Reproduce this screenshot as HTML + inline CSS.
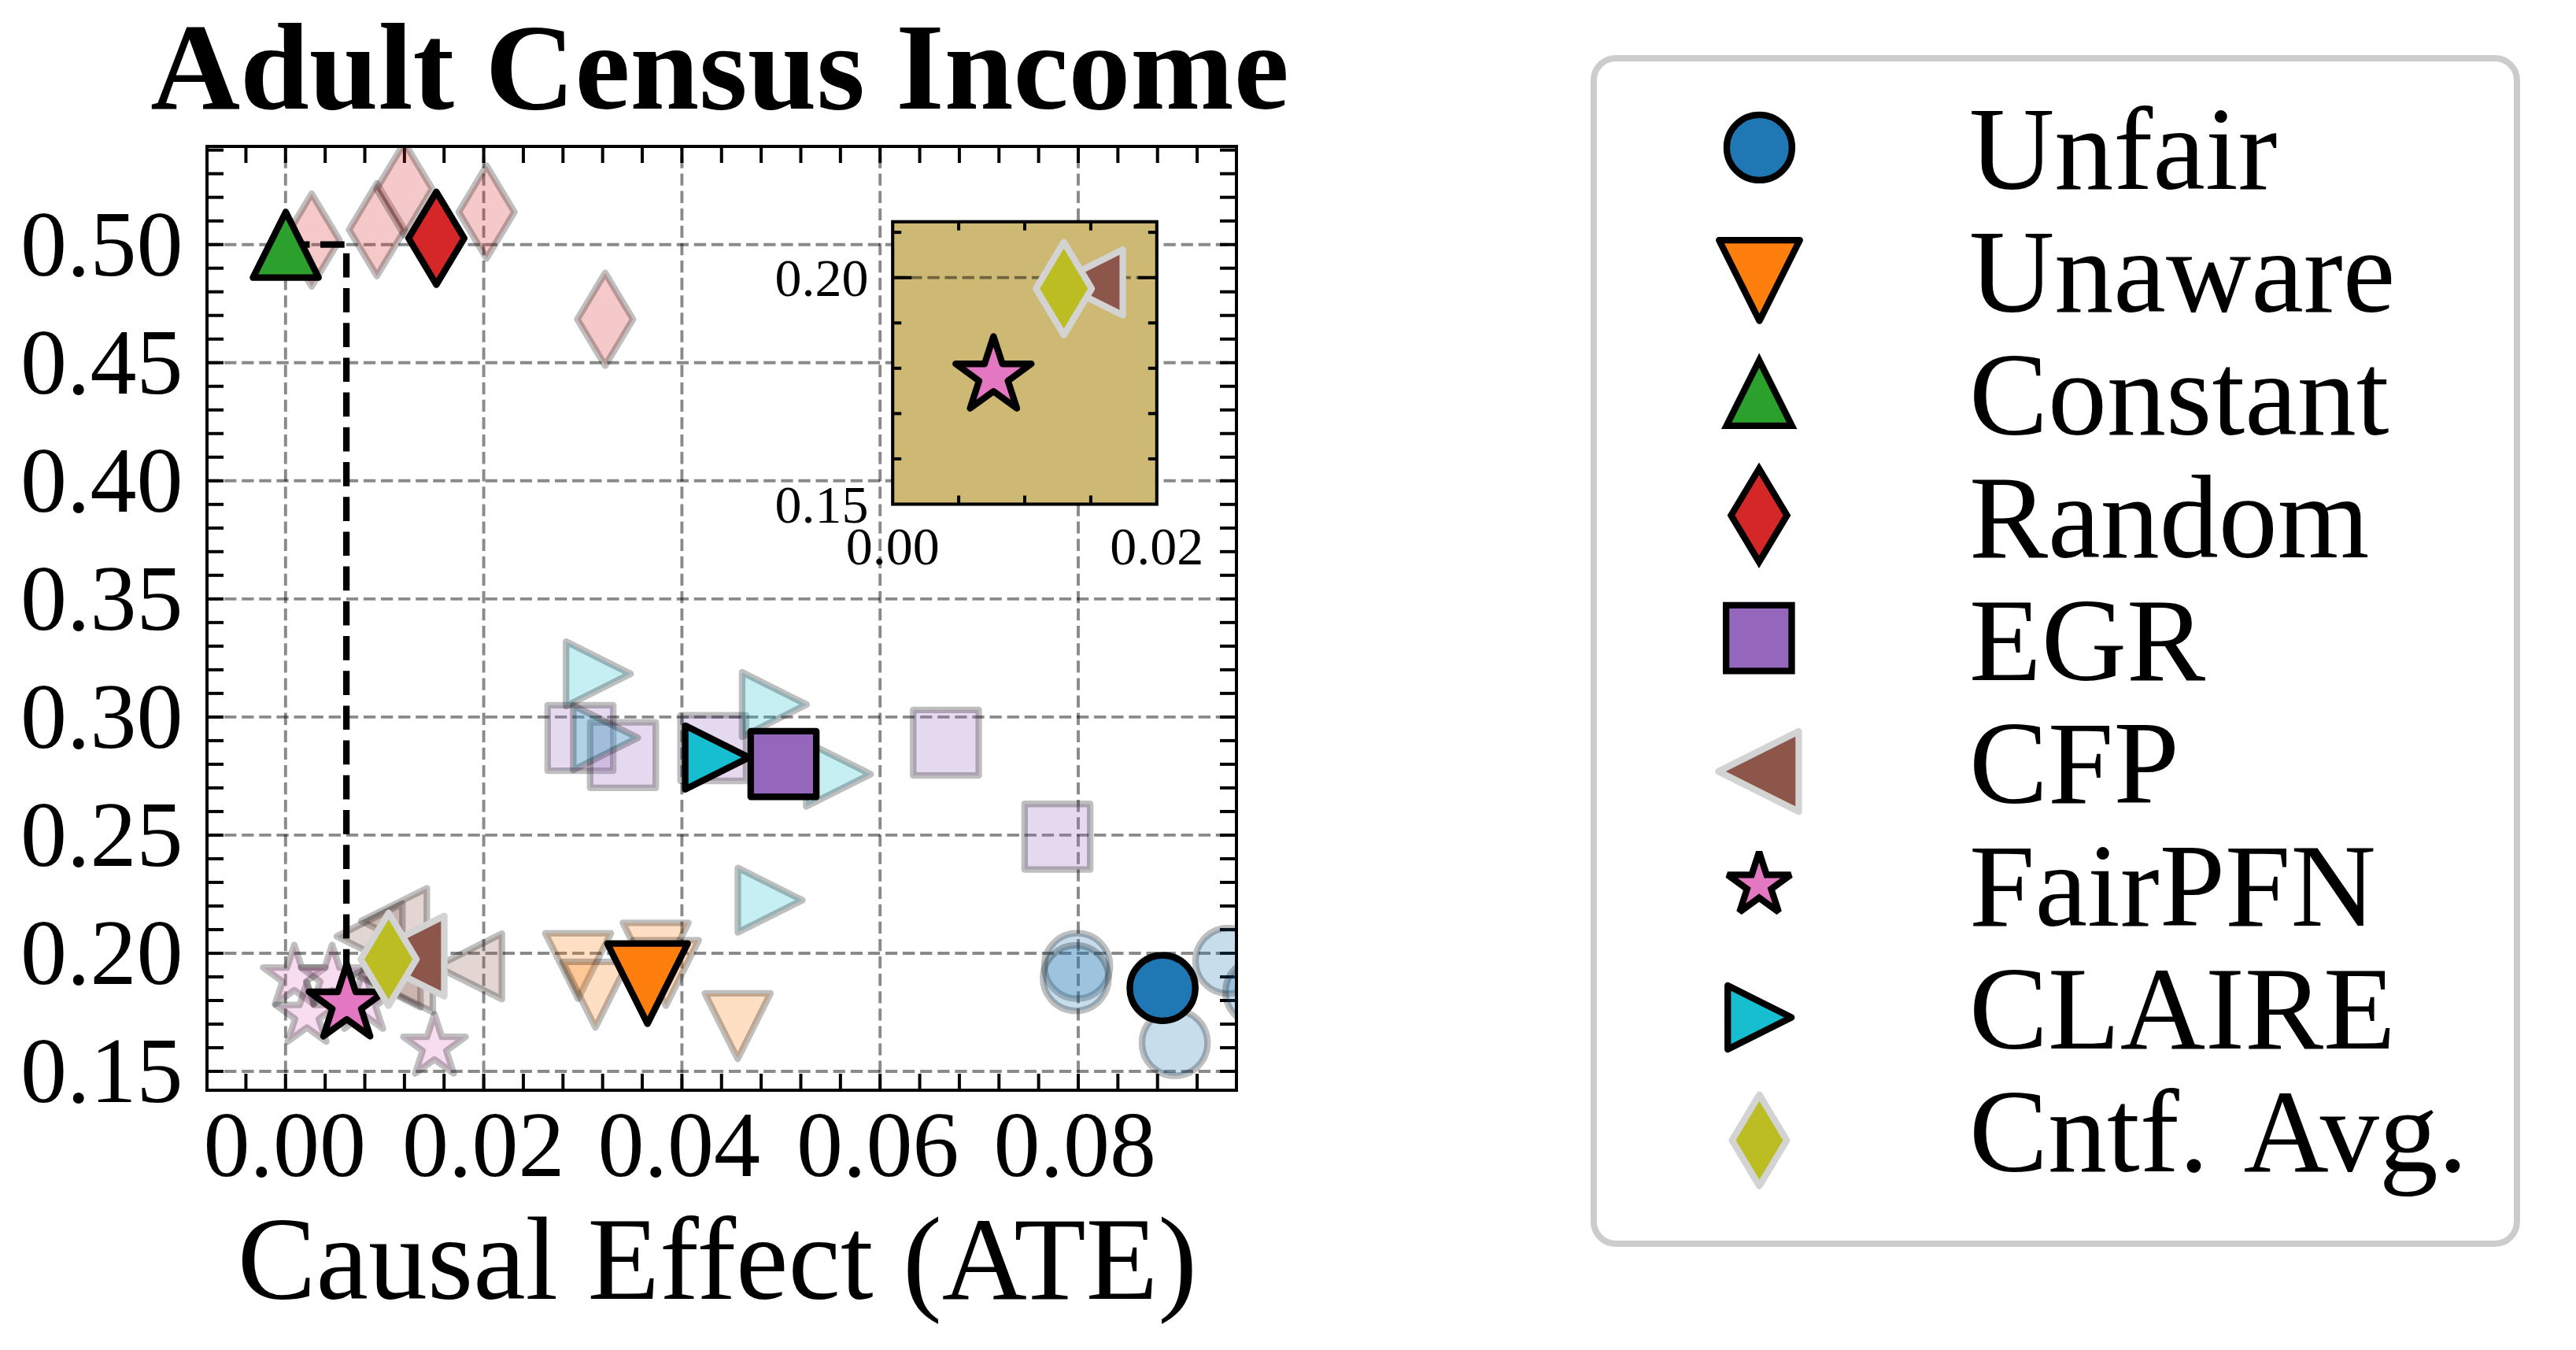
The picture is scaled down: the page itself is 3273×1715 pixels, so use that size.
<!DOCTYPE html><html><head><meta charset="utf-8"><style>html,body{margin:0;padding:0;background:#fff;overflow:hidden}svg{display:block}text{font-family:"Liberation Serif",serif}</style></head><body>
<svg width="3273" height="1715" viewBox="0 0 3273 1715">
<rect width="3273" height="1715" fill="#fff"/>
<defs><clipPath id="axclip"><rect x="263" y="186" width="1308" height="1199"/></clipPath></defs>
<text x="914.5" y="137.9" font-size="157.8" font-weight="bold" text-anchor="middle">Adult Census Income</text>
<line x1="362.8" y1="1385" x2="362.8" y2="186" stroke="#000" stroke-opacity="0.46" stroke-width="3.9" stroke-dasharray="15.3 6.8"/>
<line x1="614.6" y1="1385" x2="614.6" y2="186" stroke="#000" stroke-opacity="0.46" stroke-width="3.9" stroke-dasharray="15.3 6.8"/>
<line x1="866.4" y1="1385" x2="866.4" y2="186" stroke="#000" stroke-opacity="0.46" stroke-width="3.9" stroke-dasharray="15.3 6.8"/>
<line x1="1118.2" y1="1385" x2="1118.2" y2="186" stroke="#000" stroke-opacity="0.46" stroke-width="3.9" stroke-dasharray="15.3 6.8"/>
<line x1="1370" y1="1385" x2="1370" y2="186" stroke="#000" stroke-opacity="0.46" stroke-width="3.9" stroke-dasharray="15.3 6.8"/>
<line x1="263" y1="1361.02" x2="1571" y2="1361.02" stroke="#000" stroke-opacity="0.46" stroke-width="3.9" stroke-dasharray="15.3 6.8"/>
<line x1="263" y1="1210.97" x2="1571" y2="1210.97" stroke="#000" stroke-opacity="0.46" stroke-width="3.9" stroke-dasharray="15.3 6.8"/>
<line x1="263" y1="1060.92" x2="1571" y2="1060.92" stroke="#000" stroke-opacity="0.46" stroke-width="3.9" stroke-dasharray="15.3 6.8"/>
<line x1="263" y1="910.88" x2="1571" y2="910.88" stroke="#000" stroke-opacity="0.46" stroke-width="3.9" stroke-dasharray="15.3 6.8"/>
<line x1="263" y1="760.84" x2="1571" y2="760.84" stroke="#000" stroke-opacity="0.46" stroke-width="3.9" stroke-dasharray="15.3 6.8"/>
<line x1="263" y1="610.79" x2="1571" y2="610.79" stroke="#000" stroke-opacity="0.46" stroke-width="3.9" stroke-dasharray="15.3 6.8"/>
<line x1="263" y1="460.74" x2="1571" y2="460.74" stroke="#000" stroke-opacity="0.46" stroke-width="3.9" stroke-dasharray="15.3 6.8"/>
<line x1="263" y1="310.7" x2="1571" y2="310.7" stroke="#000" stroke-opacity="0.46" stroke-width="3.9" stroke-dasharray="15.3 6.8"/>
<line x1="312.44" y1="1385" x2="312.44" y2="1364" stroke="#000" stroke-width="4"/>
<line x1="312.44" y1="186" x2="312.44" y2="207" stroke="#000" stroke-width="4"/>
<line x1="362.8" y1="1385" x2="362.8" y2="1364" stroke="#000" stroke-width="4"/>
<line x1="362.8" y1="186" x2="362.8" y2="207" stroke="#000" stroke-width="4"/>
<line x1="413.16" y1="1385" x2="413.16" y2="1364" stroke="#000" stroke-width="4"/>
<line x1="413.16" y1="186" x2="413.16" y2="207" stroke="#000" stroke-width="4"/>
<line x1="463.52" y1="1385" x2="463.52" y2="1364" stroke="#000" stroke-width="4"/>
<line x1="463.52" y1="186" x2="463.52" y2="207" stroke="#000" stroke-width="4"/>
<line x1="513.88" y1="1385" x2="513.88" y2="1364" stroke="#000" stroke-width="4"/>
<line x1="513.88" y1="186" x2="513.88" y2="207" stroke="#000" stroke-width="4"/>
<line x1="564.24" y1="1385" x2="564.24" y2="1364" stroke="#000" stroke-width="4"/>
<line x1="564.24" y1="186" x2="564.24" y2="207" stroke="#000" stroke-width="4"/>
<line x1="614.6" y1="1385" x2="614.6" y2="1364" stroke="#000" stroke-width="4"/>
<line x1="614.6" y1="186" x2="614.6" y2="207" stroke="#000" stroke-width="4"/>
<line x1="664.96" y1="1385" x2="664.96" y2="1364" stroke="#000" stroke-width="4"/>
<line x1="664.96" y1="186" x2="664.96" y2="207" stroke="#000" stroke-width="4"/>
<line x1="715.32" y1="1385" x2="715.32" y2="1364" stroke="#000" stroke-width="4"/>
<line x1="715.32" y1="186" x2="715.32" y2="207" stroke="#000" stroke-width="4"/>
<line x1="765.68" y1="1385" x2="765.68" y2="1364" stroke="#000" stroke-width="4"/>
<line x1="765.68" y1="186" x2="765.68" y2="207" stroke="#000" stroke-width="4"/>
<line x1="816.04" y1="1385" x2="816.04" y2="1364" stroke="#000" stroke-width="4"/>
<line x1="816.04" y1="186" x2="816.04" y2="207" stroke="#000" stroke-width="4"/>
<line x1="866.4" y1="1385" x2="866.4" y2="1364" stroke="#000" stroke-width="4"/>
<line x1="866.4" y1="186" x2="866.4" y2="207" stroke="#000" stroke-width="4"/>
<line x1="916.76" y1="1385" x2="916.76" y2="1364" stroke="#000" stroke-width="4"/>
<line x1="916.76" y1="186" x2="916.76" y2="207" stroke="#000" stroke-width="4"/>
<line x1="967.12" y1="1385" x2="967.12" y2="1364" stroke="#000" stroke-width="4"/>
<line x1="967.12" y1="186" x2="967.12" y2="207" stroke="#000" stroke-width="4"/>
<line x1="1017.48" y1="1385" x2="1017.48" y2="1364" stroke="#000" stroke-width="4"/>
<line x1="1017.48" y1="186" x2="1017.48" y2="207" stroke="#000" stroke-width="4"/>
<line x1="1067.84" y1="1385" x2="1067.84" y2="1364" stroke="#000" stroke-width="4"/>
<line x1="1067.84" y1="186" x2="1067.84" y2="207" stroke="#000" stroke-width="4"/>
<line x1="1118.2" y1="1385" x2="1118.2" y2="1364" stroke="#000" stroke-width="4"/>
<line x1="1118.2" y1="186" x2="1118.2" y2="207" stroke="#000" stroke-width="4"/>
<line x1="1168.56" y1="1385" x2="1168.56" y2="1364" stroke="#000" stroke-width="4"/>
<line x1="1168.56" y1="186" x2="1168.56" y2="207" stroke="#000" stroke-width="4"/>
<line x1="1218.92" y1="1385" x2="1218.92" y2="1364" stroke="#000" stroke-width="4"/>
<line x1="1218.92" y1="186" x2="1218.92" y2="207" stroke="#000" stroke-width="4"/>
<line x1="1269.28" y1="1385" x2="1269.28" y2="1364" stroke="#000" stroke-width="4"/>
<line x1="1269.28" y1="186" x2="1269.28" y2="207" stroke="#000" stroke-width="4"/>
<line x1="1319.64" y1="1385" x2="1319.64" y2="1364" stroke="#000" stroke-width="4"/>
<line x1="1319.64" y1="186" x2="1319.64" y2="207" stroke="#000" stroke-width="4"/>
<line x1="1370" y1="1385" x2="1370" y2="1364" stroke="#000" stroke-width="4"/>
<line x1="1370" y1="186" x2="1370" y2="207" stroke="#000" stroke-width="4"/>
<line x1="1420.36" y1="1385" x2="1420.36" y2="1364" stroke="#000" stroke-width="4"/>
<line x1="1420.36" y1="186" x2="1420.36" y2="207" stroke="#000" stroke-width="4"/>
<line x1="1470.72" y1="1385" x2="1470.72" y2="1364" stroke="#000" stroke-width="4"/>
<line x1="1470.72" y1="186" x2="1470.72" y2="207" stroke="#000" stroke-width="4"/>
<line x1="1521.08" y1="1385" x2="1521.08" y2="1364" stroke="#000" stroke-width="4"/>
<line x1="1521.08" y1="186" x2="1521.08" y2="207" stroke="#000" stroke-width="4"/>
<line x1="263" y1="1361.02" x2="284" y2="1361.02" stroke="#000" stroke-width="4"/>
<line x1="1571" y1="1361.02" x2="1550" y2="1361.02" stroke="#000" stroke-width="4"/>
<line x1="263" y1="1331.01" x2="284" y2="1331.01" stroke="#000" stroke-width="4"/>
<line x1="1571" y1="1331.01" x2="1550" y2="1331.01" stroke="#000" stroke-width="4"/>
<line x1="263" y1="1301" x2="284" y2="1301" stroke="#000" stroke-width="4"/>
<line x1="1571" y1="1301" x2="1550" y2="1301" stroke="#000" stroke-width="4"/>
<line x1="263" y1="1270.99" x2="284" y2="1270.99" stroke="#000" stroke-width="4"/>
<line x1="1571" y1="1270.99" x2="1550" y2="1270.99" stroke="#000" stroke-width="4"/>
<line x1="263" y1="1240.98" x2="284" y2="1240.98" stroke="#000" stroke-width="4"/>
<line x1="1571" y1="1240.98" x2="1550" y2="1240.98" stroke="#000" stroke-width="4"/>
<line x1="263" y1="1210.97" x2="284" y2="1210.97" stroke="#000" stroke-width="4"/>
<line x1="1571" y1="1210.97" x2="1550" y2="1210.97" stroke="#000" stroke-width="4"/>
<line x1="263" y1="1180.96" x2="284" y2="1180.96" stroke="#000" stroke-width="4"/>
<line x1="1571" y1="1180.96" x2="1550" y2="1180.96" stroke="#000" stroke-width="4"/>
<line x1="263" y1="1150.95" x2="284" y2="1150.95" stroke="#000" stroke-width="4"/>
<line x1="1571" y1="1150.95" x2="1550" y2="1150.95" stroke="#000" stroke-width="4"/>
<line x1="263" y1="1120.94" x2="284" y2="1120.94" stroke="#000" stroke-width="4"/>
<line x1="1571" y1="1120.94" x2="1550" y2="1120.94" stroke="#000" stroke-width="4"/>
<line x1="263" y1="1090.93" x2="284" y2="1090.93" stroke="#000" stroke-width="4"/>
<line x1="1571" y1="1090.93" x2="1550" y2="1090.93" stroke="#000" stroke-width="4"/>
<line x1="263" y1="1060.92" x2="284" y2="1060.92" stroke="#000" stroke-width="4"/>
<line x1="1571" y1="1060.92" x2="1550" y2="1060.92" stroke="#000" stroke-width="4"/>
<line x1="263" y1="1030.92" x2="284" y2="1030.92" stroke="#000" stroke-width="4"/>
<line x1="1571" y1="1030.92" x2="1550" y2="1030.92" stroke="#000" stroke-width="4"/>
<line x1="263" y1="1000.91" x2="284" y2="1000.91" stroke="#000" stroke-width="4"/>
<line x1="1571" y1="1000.91" x2="1550" y2="1000.91" stroke="#000" stroke-width="4"/>
<line x1="263" y1="970.9" x2="284" y2="970.9" stroke="#000" stroke-width="4"/>
<line x1="1571" y1="970.9" x2="1550" y2="970.9" stroke="#000" stroke-width="4"/>
<line x1="263" y1="940.89" x2="284" y2="940.89" stroke="#000" stroke-width="4"/>
<line x1="1571" y1="940.89" x2="1550" y2="940.89" stroke="#000" stroke-width="4"/>
<line x1="263" y1="910.88" x2="284" y2="910.88" stroke="#000" stroke-width="4"/>
<line x1="1571" y1="910.88" x2="1550" y2="910.88" stroke="#000" stroke-width="4"/>
<line x1="263" y1="880.87" x2="284" y2="880.87" stroke="#000" stroke-width="4"/>
<line x1="1571" y1="880.87" x2="1550" y2="880.87" stroke="#000" stroke-width="4"/>
<line x1="263" y1="850.86" x2="284" y2="850.86" stroke="#000" stroke-width="4"/>
<line x1="1571" y1="850.86" x2="1550" y2="850.86" stroke="#000" stroke-width="4"/>
<line x1="263" y1="820.85" x2="284" y2="820.85" stroke="#000" stroke-width="4"/>
<line x1="1571" y1="820.85" x2="1550" y2="820.85" stroke="#000" stroke-width="4"/>
<line x1="263" y1="790.84" x2="284" y2="790.84" stroke="#000" stroke-width="4"/>
<line x1="1571" y1="790.84" x2="1550" y2="790.84" stroke="#000" stroke-width="4"/>
<line x1="263" y1="760.84" x2="284" y2="760.84" stroke="#000" stroke-width="4"/>
<line x1="1571" y1="760.84" x2="1550" y2="760.84" stroke="#000" stroke-width="4"/>
<line x1="263" y1="730.83" x2="284" y2="730.83" stroke="#000" stroke-width="4"/>
<line x1="1571" y1="730.83" x2="1550" y2="730.83" stroke="#000" stroke-width="4"/>
<line x1="263" y1="700.82" x2="284" y2="700.82" stroke="#000" stroke-width="4"/>
<line x1="1571" y1="700.82" x2="1550" y2="700.82" stroke="#000" stroke-width="4"/>
<line x1="263" y1="670.81" x2="284" y2="670.81" stroke="#000" stroke-width="4"/>
<line x1="1571" y1="670.81" x2="1550" y2="670.81" stroke="#000" stroke-width="4"/>
<line x1="263" y1="640.8" x2="284" y2="640.8" stroke="#000" stroke-width="4"/>
<line x1="1571" y1="640.8" x2="1550" y2="640.8" stroke="#000" stroke-width="4"/>
<line x1="263" y1="610.79" x2="284" y2="610.79" stroke="#000" stroke-width="4"/>
<line x1="1571" y1="610.79" x2="1550" y2="610.79" stroke="#000" stroke-width="4"/>
<line x1="263" y1="580.78" x2="284" y2="580.78" stroke="#000" stroke-width="4"/>
<line x1="1571" y1="580.78" x2="1550" y2="580.78" stroke="#000" stroke-width="4"/>
<line x1="263" y1="550.77" x2="284" y2="550.77" stroke="#000" stroke-width="4"/>
<line x1="1571" y1="550.77" x2="1550" y2="550.77" stroke="#000" stroke-width="4"/>
<line x1="263" y1="520.76" x2="284" y2="520.76" stroke="#000" stroke-width="4"/>
<line x1="1571" y1="520.76" x2="1550" y2="520.76" stroke="#000" stroke-width="4"/>
<line x1="263" y1="490.75" x2="284" y2="490.75" stroke="#000" stroke-width="4"/>
<line x1="1571" y1="490.75" x2="1550" y2="490.75" stroke="#000" stroke-width="4"/>
<line x1="263" y1="460.74" x2="284" y2="460.74" stroke="#000" stroke-width="4"/>
<line x1="1571" y1="460.74" x2="1550" y2="460.74" stroke="#000" stroke-width="4"/>
<line x1="263" y1="430.74" x2="284" y2="430.74" stroke="#000" stroke-width="4"/>
<line x1="1571" y1="430.74" x2="1550" y2="430.74" stroke="#000" stroke-width="4"/>
<line x1="263" y1="400.73" x2="284" y2="400.73" stroke="#000" stroke-width="4"/>
<line x1="1571" y1="400.73" x2="1550" y2="400.73" stroke="#000" stroke-width="4"/>
<line x1="263" y1="370.72" x2="284" y2="370.72" stroke="#000" stroke-width="4"/>
<line x1="1571" y1="370.72" x2="1550" y2="370.72" stroke="#000" stroke-width="4"/>
<line x1="263" y1="340.71" x2="284" y2="340.71" stroke="#000" stroke-width="4"/>
<line x1="1571" y1="340.71" x2="1550" y2="340.71" stroke="#000" stroke-width="4"/>
<line x1="263" y1="310.7" x2="284" y2="310.7" stroke="#000" stroke-width="4"/>
<line x1="1571" y1="310.7" x2="1550" y2="310.7" stroke="#000" stroke-width="4"/>
<line x1="263" y1="280.69" x2="284" y2="280.69" stroke="#000" stroke-width="4"/>
<line x1="1571" y1="280.69" x2="1550" y2="280.69" stroke="#000" stroke-width="4"/>
<line x1="263" y1="250.68" x2="284" y2="250.68" stroke="#000" stroke-width="4"/>
<line x1="1571" y1="250.68" x2="1550" y2="250.68" stroke="#000" stroke-width="4"/>
<line x1="263" y1="220.67" x2="284" y2="220.67" stroke="#000" stroke-width="4"/>
<line x1="1571" y1="220.67" x2="1550" y2="220.67" stroke="#000" stroke-width="4"/>
<line x1="263" y1="190.66" x2="284" y2="190.66" stroke="#000" stroke-width="4"/>
<line x1="1571" y1="190.66" x2="1550" y2="190.66" stroke="#000" stroke-width="4"/>
<g clip-path="url(#axclip)">
<path d="M396 246.08 L431.36 305 L396 363.92 L360.64 305 Z" fill="#d62728" stroke="#000" stroke-width="8.33" stroke-linejoin="round" fill-opacity="0.25" stroke-opacity="0.25"/>
<path d="M478.9 232.88 L514.26 291.8 L478.9 350.72 L443.54 291.8 Z" fill="#d62728" stroke="#000" stroke-width="8.33" stroke-linejoin="round" fill-opacity="0.25" stroke-opacity="0.25"/>
<path d="M513.8 181.08 L549.16 240 L513.8 298.92 L478.44 240 Z" fill="#d62728" stroke="#000" stroke-width="8.33" stroke-linejoin="round" fill-opacity="0.25" stroke-opacity="0.25"/>
<path d="M618.2 210.48 L653.56 269.4 L618.2 328.32 L582.84 269.4 Z" fill="#d62728" stroke="#000" stroke-width="8.33" stroke-linejoin="round" fill-opacity="0.25" stroke-opacity="0.25"/>
<path d="M768.9 346.68 L804.26 405.6 L768.9 464.52 L733.54 405.6 Z" fill="#d62728" stroke="#000" stroke-width="8.33" stroke-linejoin="round" fill-opacity="0.25" stroke-opacity="0.25"/>
<path d="M695.84 895.84 L779.16 895.84 L779.16 979.16 L695.84 979.16 Z" fill="#9467bd" stroke="#000" stroke-width="8.33" stroke-linejoin="round" fill-opacity="0.25" stroke-opacity="0.25"/>
<path d="M749.84 917.54 L833.16 917.54 L833.16 1000.87 L749.84 1000.87 Z" fill="#9467bd" stroke="#000" stroke-width="8.33" stroke-linejoin="round" fill-opacity="0.25" stroke-opacity="0.25"/>
<path d="M864.63 908.63 L947.96 908.63 L947.96 991.96 L864.63 991.96 Z" fill="#9467bd" stroke="#000" stroke-width="8.33" stroke-linejoin="round" fill-opacity="0.25" stroke-opacity="0.25"/>
<path d="M1160.24 901.84 L1243.57 901.84 L1243.57 985.16 L1160.24 985.16 Z" fill="#9467bd" stroke="#000" stroke-width="8.33" stroke-linejoin="round" fill-opacity="0.25" stroke-opacity="0.25"/>
<path d="M1301.84 1021.24 L1385.16 1021.24 L1385.16 1104.57 L1301.84 1104.57 Z" fill="#9467bd" stroke="#000" stroke-width="8.33" stroke-linejoin="round" fill-opacity="0.25" stroke-opacity="0.25"/>
<path d="M801.2 856.1 L719.2 815.1 L719.2 897.1 Z" fill="#17becf" stroke="#000" stroke-width="8.33" stroke-linejoin="round" fill-opacity="0.25" stroke-opacity="0.25"/>
<path d="M810.4 937.2 L728.4 896.2 L728.4 978.2 Z" fill="#17becf" stroke="#000" stroke-width="8.33" stroke-linejoin="round" fill-opacity="0.25" stroke-opacity="0.25"/>
<path d="M1024.9 895 L942.9 854 L942.9 936 Z" fill="#17becf" stroke="#000" stroke-width="8.33" stroke-linejoin="round" fill-opacity="0.25" stroke-opacity="0.25"/>
<path d="M1106.3 983.5 L1024.3 942.5 L1024.3 1024.5 Z" fill="#17becf" stroke="#000" stroke-width="8.33" stroke-linejoin="round" fill-opacity="0.25" stroke-opacity="0.25"/>
<path d="M1019.5 1143.6 L937.5 1102.6 L937.5 1184.6 Z" fill="#17becf" stroke="#000" stroke-width="8.33" stroke-linejoin="round" fill-opacity="0.25" stroke-opacity="0.25"/>
<circle cx="1368.6" cy="1227.1" r="41.66" fill="#1f77b4" stroke="#000" stroke-width="8.33" fill-opacity="0.25" stroke-opacity="0.25"/>
<circle cx="1366.9" cy="1242.5" r="41.66" fill="#1f77b4" stroke="#000" stroke-width="8.33" fill-opacity="0.25" stroke-opacity="0.25"/>
<circle cx="1492.6" cy="1325" r="41.66" fill="#1f77b4" stroke="#000" stroke-width="8.33" fill-opacity="0.25" stroke-opacity="0.25"/>
<circle cx="1560.6" cy="1220.7" r="41.66" fill="#1f77b4" stroke="#000" stroke-width="8.33" fill-opacity="0.25" stroke-opacity="0.25"/>
<circle cx="1598.8" cy="1260" r="41.66" fill="#1f77b4" stroke="#000" stroke-width="8.33" fill-opacity="0.25" stroke-opacity="0.25"/>
<path d="M734.5 1268.87 L692.84 1185.54 L776.16 1185.54 Z" fill="#ff7f0e" stroke="#000" stroke-width="8.33" stroke-linejoin="round" fill-opacity="0.25" stroke-opacity="0.25"/>
<path d="M756.5 1305.26 L714.84 1221.93 L798.16 1221.93 Z" fill="#ff7f0e" stroke="#000" stroke-width="8.33" stroke-linejoin="round" fill-opacity="0.25" stroke-opacity="0.25"/>
<path d="M833 1255.66 L791.34 1172.34 L874.66 1172.34 Z" fill="#ff7f0e" stroke="#000" stroke-width="8.33" stroke-linejoin="round" fill-opacity="0.25" stroke-opacity="0.25"/>
<path d="M846.1 1277.66 L804.44 1194.34 L887.76 1194.34 Z" fill="#ff7f0e" stroke="#000" stroke-width="8.33" stroke-linejoin="round" fill-opacity="0.25" stroke-opacity="0.25"/>
<path d="M937.3 1345.26 L895.63 1261.93 L978.96 1261.93 Z" fill="#ff7f0e" stroke="#000" stroke-width="8.33" stroke-linejoin="round" fill-opacity="0.25" stroke-opacity="0.25"/>
<path d="M459.03 1170.1 L542.37 1128.43 L542.37 1211.76 Z" fill="#8c564b" stroke="#000" stroke-width="8.33" stroke-linejoin="round" fill-opacity="0.25" stroke-opacity="0.25"/>
<path d="M427.94 1189.5 L511.27 1147.84 L511.27 1231.16 Z" fill="#8c564b" stroke="#000" stroke-width="8.33" stroke-linejoin="round" fill-opacity="0.25" stroke-opacity="0.25"/>
<path d="M450.94 1238 L534.26 1196.34 L534.26 1279.66 Z" fill="#8c564b" stroke="#000" stroke-width="8.33" stroke-linejoin="round" fill-opacity="0.25" stroke-opacity="0.25"/>
<path d="M466.63 1244.1 L549.97 1202.43 L549.97 1285.76 Z" fill="#8c564b" stroke="#000" stroke-width="8.33" stroke-linejoin="round" fill-opacity="0.25" stroke-opacity="0.25"/>
<path d="M554.34 1227.7 L637.66 1186.04 L637.66 1269.37 Z" fill="#8c564b" stroke="#000" stroke-width="8.33" stroke-linejoin="round" fill-opacity="0.25" stroke-opacity="0.25"/>
<path d="M374 1200.34 L364.65 1229.12 L334.37 1229.12 L358.86 1246.92 L349.51 1275.71 L374 1257.91 L398.49 1275.71 L389.14 1246.92 L413.63 1229.12 L383.35 1229.12 Z" fill="#e377c2" stroke="#000" stroke-width="8.33" stroke-linejoin="round" fill-opacity="0.25" stroke-opacity="0.25"/>
<path d="M422 1200.34 L412.65 1229.12 L382.37 1229.12 L406.86 1246.92 L397.51 1275.71 L422 1257.91 L446.49 1275.71 L437.14 1246.92 L461.63 1229.12 L431.35 1229.12 Z" fill="#e377c2" stroke="#000" stroke-width="8.33" stroke-linejoin="round" fill-opacity="0.25" stroke-opacity="0.25"/>
<path d="M390 1247.84 L380.65 1276.62 L350.37 1276.62 L374.86 1294.42 L365.51 1323.21 L390 1305.41 L414.49 1323.21 L405.14 1294.42 L429.63 1276.62 L399.35 1276.62 Z" fill="#e377c2" stroke="#000" stroke-width="8.33" stroke-linejoin="round" fill-opacity="0.25" stroke-opacity="0.25"/>
<path d="M462 1231.34 L452.65 1260.12 L422.37 1260.12 L446.86 1277.92 L437.51 1306.71 L462 1288.91 L486.49 1306.71 L477.14 1277.92 L501.63 1260.12 L471.35 1260.12 Z" fill="#e377c2" stroke="#000" stroke-width="8.33" stroke-linejoin="round" fill-opacity="0.25" stroke-opacity="0.25"/>
<path d="M552 1288.34 L542.65 1317.12 L512.37 1317.12 L536.86 1334.92 L527.51 1363.71 L552 1345.91 L576.49 1363.71 L567.14 1334.92 L591.63 1317.12 L561.35 1317.12 Z" fill="#e377c2" stroke="#000" stroke-width="8.33" stroke-linejoin="round" fill-opacity="0.25" stroke-opacity="0.25"/>
<path d="M362.8 310.7 L440.1 310.7 L440.1 1275.6" fill="none" stroke="#000" stroke-width="8.3" stroke-dasharray="30.7 13.5"/>
<circle cx="1477.1" cy="1255.2" r="41.66" fill="#1f77b4" stroke="#000" stroke-width="8.33"/>
<path d="M822.7 1300.55 L771.7 1198.55 L873.7 1198.55 Z" fill="#ff7f0e" stroke="#000" stroke-width="8.33" stroke-linejoin="round"/>
<path d="M363.1 269.33 L321.44 352.67 L404.77 352.67 Z" fill="#2ca02c" stroke="#000" stroke-width="8.33" stroke-linejoin="round"/>
<path d="M554.45 243.78 L589.81 302.7 L554.45 361.62 L519.09 302.7 Z" fill="#d62728" stroke="#000" stroke-width="8.33" stroke-linejoin="round"/>
<path d="M951.6 962.35 L870.6 921.85 L870.6 1002.85 Z" fill="#17becf" stroke="#000" stroke-width="8.33" stroke-linejoin="round"/>
<path d="M953.84 928.94 L1037.16 928.94 L1037.16 1012.26 L953.84 1012.26 Z" fill="#9467bd" stroke="#000" stroke-width="8.33" stroke-linejoin="round"/>
<path d="M462.5 1214.6 L564.5 1163.6 L564.5 1265.6 Z" fill="#8c564b" stroke="#d3d3d3" stroke-width="8.33" stroke-linejoin="round"/>
<path d="M440.6 1225.1 L429.26 1259.99 L392.57 1259.99 L422.25 1281.56 L410.92 1316.46 L440.6 1294.89 L470.28 1316.46 L458.95 1281.56 L488.63 1259.99 L451.94 1259.99 Z" fill="#e377c2" stroke="#000" stroke-width="8.33" stroke-linejoin="round"/>
<path d="M493.7 1159.78 L529.06 1218.7 L493.7 1277.62 L458.34 1218.7 Z" fill="#bcbd22" stroke="#d3d3d3" stroke-width="8.33" stroke-linejoin="round"/>
</g>
<rect x="263" y="186" width="1308" height="1199" fill="none" stroke="#000" stroke-width="4" stroke-linejoin="miter"/>
<text x="232.5" y="1400.32" font-size="118" text-anchor="end">0.15</text>
<text x="232.5" y="1250.27" font-size="118" text-anchor="end">0.20</text>
<text x="232.5" y="1100.22" font-size="118" text-anchor="end">0.25</text>
<text x="232.5" y="950.18" font-size="118" text-anchor="end">0.30</text>
<text x="232.5" y="800.13" font-size="118" text-anchor="end">0.35</text>
<text x="232.5" y="650.09" font-size="118" text-anchor="end">0.40</text>
<text x="232.5" y="500.04" font-size="118" text-anchor="end">0.45</text>
<text x="232.5" y="350" font-size="118" text-anchor="end">0.50</text>
<text x="361.85" y="1493.5" font-size="118" text-anchor="middle">0.00</text>
<text x="614.3" y="1493.5" font-size="118" text-anchor="middle">0.02</text>
<text x="862.7" y="1493.5" font-size="118" text-anchor="middle">0.04</text>
<text x="1115.2" y="1493.5" font-size="118" text-anchor="middle">0.06</text>
<text x="1365.65" y="1493.5" font-size="118" text-anchor="middle">0.08</text>
<text x="911.4" y="1650.3" font-size="149.7" text-anchor="middle">Causal Effect (ATE)</text>
<rect x="1134.2" y="281.7" width="335.6" height="358.8" fill="#cdb973"/>
<line x1="1134.2" y1="352.7" x2="1469.8" y2="352.7" stroke="#000" stroke-opacity="0.46" stroke-width="3.7" stroke-dasharray="15.3 6.8"/>
<defs><clipPath id="inclip"><rect x="1134.2" y="281.7" width="335.6" height="358.8"/></clipPath></defs>
<g clip-path="url(#inclip)">
<path d="M1343.29 358.8 L1426.62 317.13 L1426.62 400.47 Z" fill="#8c564b" stroke="#d3d3d3" stroke-width="8.33" stroke-linejoin="round"/>
<path d="M1351.7 307.73 L1387.06 366.65 L1351.7 425.57 L1316.34 366.65 Z" fill="#bcbd22" stroke="#d3d3d3" stroke-width="8.33" stroke-linejoin="round"/>
<path d="M1262.3 427.35 L1250.96 462.24 L1214.27 462.24 L1243.95 483.81 L1232.62 518.71 L1262.3 497.14 L1291.98 518.71 L1280.65 483.81 L1310.33 462.24 L1273.64 462.24 Z" fill="#e377c2" stroke="#000" stroke-width="8.33" stroke-linejoin="round"/>
</g>
<line x1="1218.1" y1="640.5" x2="1218.1" y2="629.5" stroke="#000" stroke-width="4"/>
<line x1="1218.1" y1="281.7" x2="1218.1" y2="292.7" stroke="#000" stroke-width="4"/>
<line x1="1302" y1="640.5" x2="1302" y2="629.5" stroke="#000" stroke-width="4"/>
<line x1="1302" y1="281.7" x2="1302" y2="292.7" stroke="#000" stroke-width="4"/>
<line x1="1385.9" y1="640.5" x2="1385.9" y2="629.5" stroke="#000" stroke-width="4"/>
<line x1="1385.9" y1="281.7" x2="1385.9" y2="292.7" stroke="#000" stroke-width="4"/>
<line x1="1134.2" y1="582.94" x2="1145.2" y2="582.94" stroke="#000" stroke-width="4"/>
<line x1="1469.8" y1="582.94" x2="1458.8" y2="582.94" stroke="#000" stroke-width="4"/>
<line x1="1134.2" y1="525.38" x2="1145.2" y2="525.38" stroke="#000" stroke-width="4"/>
<line x1="1469.8" y1="525.38" x2="1458.8" y2="525.38" stroke="#000" stroke-width="4"/>
<line x1="1134.2" y1="467.82" x2="1145.2" y2="467.82" stroke="#000" stroke-width="4"/>
<line x1="1469.8" y1="467.82" x2="1458.8" y2="467.82" stroke="#000" stroke-width="4"/>
<line x1="1134.2" y1="410.26" x2="1145.2" y2="410.26" stroke="#000" stroke-width="4"/>
<line x1="1469.8" y1="410.26" x2="1458.8" y2="410.26" stroke="#000" stroke-width="4"/>
<line x1="1134.2" y1="352.7" x2="1158.2" y2="352.7" stroke="#000" stroke-width="4"/>
<line x1="1469.8" y1="352.7" x2="1445.8" y2="352.7" stroke="#000" stroke-width="4"/>
<line x1="1134.2" y1="295.14" x2="1145.2" y2="295.14" stroke="#000" stroke-width="4"/>
<line x1="1469.8" y1="295.14" x2="1458.8" y2="295.14" stroke="#000" stroke-width="4"/>
<rect x="1134.2" y="281.7" width="335.6" height="358.8" fill="none" stroke="#000" stroke-width="4.1"/>
<text x="1103.6" y="376.4" font-size="68" text-anchor="end">0.20</text>
<text x="1103.6" y="664.2" font-size="68" text-anchor="end">0.15</text>
<text x="1134.2" y="716.5" font-size="68" text-anchor="middle">0.00</text>
<text x="1469.8" y="716.5" font-size="68" text-anchor="middle">0.02</text>
<rect x="2024.96" y="73.9" width="1173" height="1506.05" rx="28" ry="28" fill="#fff" stroke="#ccc" stroke-width="8"/>
<text x="2502.05" y="240.3" font-size="150">Unfair</text>
<text x="2502.05" y="396.25" font-size="150">Unaware</text>
<text x="2502.05" y="552.2" font-size="150">Constant</text>
<text x="2502.05" y="708.15" font-size="150">Random</text>
<text x="2502.05" y="864.1" font-size="150">EGR</text>
<text x="2502.05" y="1020.05" font-size="150">CFP</text>
<text x="2502.05" y="1176" font-size="150">FairPFN</text>
<text x="2502.05" y="1331.95" font-size="150">CLAIRE</text>
<text x="2502.05" y="1487.9" font-size="150">Cntf.</text>
<text x="2850.6" y="1487.9" font-size="150">Avg.</text>
<circle cx="2235.4" cy="187.4" r="41.5" fill="#1f77b4" stroke="#000" stroke-width="8.3"/>
<path d="M2235.5 407.55 L2184.25 305.05 L2286.75 305.05 Z" fill="#ff7f0e" stroke="#000" stroke-width="8.33" stroke-linejoin="round"/>
<path d="M2235.2 457.8 L2193.7 540.8 L2276.7 540.8 Z" fill="#2ca02c" stroke="#000" stroke-width="8.33" stroke-linejoin="miter"/>
<path d="M2235 595.47 L2270.51 654.65 L2235 713.83 L2199.49 654.65 Z" fill="#d62728" stroke="#000" stroke-width="8.33" stroke-linejoin="miter"/>
<path d="M2193.1 768.9 L2276.5 768.9 L2276.5 852.3 L2193.1 852.3 Z" fill="#9467bd" stroke="#000" stroke-width="8.33" stroke-linejoin="miter"/>
<path d="M2183.4 980.1 L2285.4 929.1 L2285.4 1031.1 Z" fill="#8c564b" stroke="#d3d3d3" stroke-width="8.33" stroke-linejoin="round"/>
<path d="M2235.1 1082.2 L2225.63 1111.36 L2194.97 1111.36 L2219.77 1129.38 L2210.3 1158.54 L2235.1 1140.52 L2259.9 1158.54 L2250.43 1129.38 L2275.23 1111.36 L2244.57 1111.36 Z" fill="#e377c2" stroke="#000" stroke-width="8.33" stroke-linejoin="miter" stroke-miterlimit="2"/>
<path d="M2276.2 1292.55 L2195.2 1252.05 L2195.2 1333.05 Z" fill="#17becf" stroke="#000" stroke-width="8.33" stroke-linejoin="round"/>
<path d="M2235.4 1390.62 L2270.19 1448.6 L2235.4 1506.58 L2200.61 1448.6 Z" fill="#bcbd22" stroke="#d3d3d3" stroke-width="8.33" stroke-linejoin="round"/>
</svg></body></html>
